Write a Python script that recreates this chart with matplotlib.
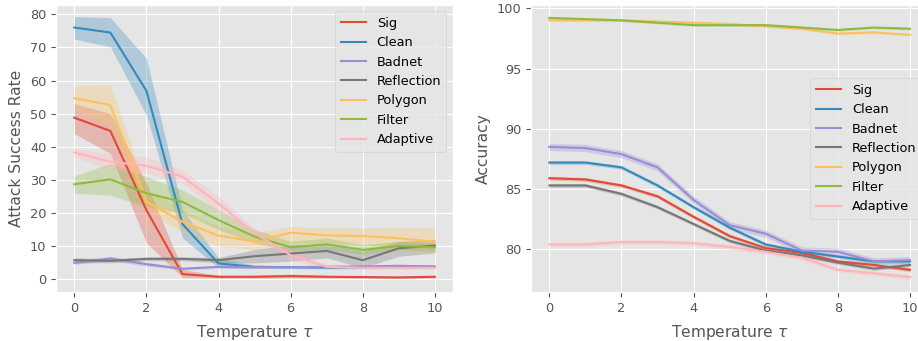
import matplotlib
matplotlib.use("Agg")
import matplotlib.pyplot as plt
import numpy as np

# Attack success rate and clean accuracy vs. softmax temperature, mean with
# shaded spread for each backdoor attack.

temps = list(range(11))
attacks = ["Sig", "Clean", "Badnet", "Reflection", "Polygon", "Filter", "Adaptive"]
colors = ["#E24A33", "#348ABD", "#988ED5", "#777777", "#FBC15E", "#8EBA42", "#FFB5B8"]

# attack success rate (mean, low, high)
asr_sig = [48.8, 44.8, 20.9, 1.6, 0.8, 0.8, 1.0, 0.8, 0.7, 0.6, 0.8]
asr_sig_lo = [44.0, 38.0, 11.0, 0.6, 0.4, 0.4, 0.5, 0.4, 0.4, 0.3, 0.4]
asr_sig_hi = [53.1, 50.0, 29.0, 3.0, 1.2, 1.2, 1.6, 1.2, 1.0, 0.9, 1.2]

asr_clean = [76.0, 74.5, 56.9, 16.7, 4.8, 3.8, 3.7, 3.6, 3.7, 3.8, 3.8]
asr_clean_lo = [72.5, 70.2, 49.6, 12.5, 3.5, 3.3, 3.3, 3.2, 3.3, 3.4, 3.4]
asr_clean_hi = [79.3, 79.0, 66.7, 21.0, 6.5, 4.3, 4.1, 4.0, 4.1, 4.2, 4.2]

asr_badnet = [5.0, 6.3, 4.6, 3.2, 3.8, 3.7, 3.7, 3.8, 3.9, 4.1, 3.9]
asr_badnet_lo = [4.5, 5.6, 4.0, 2.8, 3.4, 3.3, 3.3, 3.4, 3.5, 3.6, 3.5]
asr_badnet_hi = [5.5, 7.0, 5.2, 3.6, 4.2, 4.1, 4.1, 4.2, 4.3, 4.6, 4.3]

asr_reflection = [5.8, 5.6, 6.2, 6.2, 5.8, 7.0, 7.8, 8.6, 5.8, 9.4, 10.2]
asr_reflection_lo = [5.0, 5.0, 5.6, 5.6, 5.0, 5.0, 5.5, 6.5, 3.5, 7.0, 8.0]
asr_reflection_hi = [6.6, 6.2, 6.8, 6.8, 6.6, 9.0, 10.5, 10.5, 8.5, 11.5, 12.0]

asr_polygon = [54.7, 52.6, 23.4, 17.4, 13.2, 11.4, 14.1, 13.3, 13.1, 12.4, 11.4]
asr_polygon_lo = [51.0, 46.0, 21.0, 14.0, 10.0, 9.0, 11.0, 11.0, 10.5, 9.0, 8.0]
asr_polygon_hi = [58.4, 58.9, 27.0, 21.0, 16.0, 14.0, 16.0, 15.5, 15.5, 15.5, 15.5]

asr_filter = [28.7, 30.2, 26.0, 23.4, 17.9, 12.9, 9.7, 10.6, 8.9, 10.1, 9.7]
asr_filter_lo = [26.0, 25.4, 22.0, 20.0, 15.0, 11.0, 8.5, 9.0, 7.5, 9.0, 8.5]
asr_filter_hi = [31.2, 35.0, 31.0, 27.0, 21.0, 15.0, 11.5, 12.5, 10.5, 11.5, 11.0]

asr_adaptive = [38.3, 35.5, 34.3, 31.0, 22.9, 13.9, 7.3, 3.8, 3.5, 3.5, 3.5]
asr_adaptive_lo = [37.0, 33.0, 32.0, 29.0, 20.5, 12.0, 6.0, 3.0, 3.0, 3.0, 3.0]
asr_adaptive_hi = [39.5, 38.0, 37.0, 33.0, 25.0, 15.5, 9.0, 4.5, 4.0, 4.0, 4.0]

# clean accuracy (mean, spread)
acc_sig = [85.9, 85.8, 85.3, 84.4, 82.7, 81.1, 80.1, 79.7, 79.0, 78.7, 78.3]
acc_clean = [87.2, 87.2, 86.8, 85.3, 83.5, 81.8, 80.4, 79.8, 79.4, 79.0, 79.0]
acc_badnet = [88.5, 88.4, 87.9, 86.8, 84.1, 82.0, 81.3, 79.9, 79.8, 79.0, 79.1]
acc_reflection = [85.3, 85.3, 84.6, 83.5, 82.1, 80.7, 79.9, 79.5, 78.9, 78.4, 78.7]
acc_polygon = [99.0, 99.0, 99.0, 98.9, 98.8, 98.7, 98.5, 98.3, 97.9, 98.0, 97.8]
acc_filter = [99.2, 99.1, 99.0, 98.8, 98.6, 98.6, 98.6, 98.4, 98.2, 98.4, 98.3]
acc_adaptive = [80.4, 80.4, 80.6, 80.6, 80.5, 80.2, 79.8, 79.3, 78.3, 78.0, 77.7]
acc_spread = [0.15, 0.15, 0.3, 0.15, 0.1, 0.1, 0.2]

asr_mean = [asr_sig, asr_clean, asr_badnet, asr_reflection, asr_polygon, asr_filter, asr_adaptive]
asr_lo = [asr_sig_lo, asr_clean_lo, asr_badnet_lo, asr_reflection_lo, asr_polygon_lo,
          asr_filter_lo, asr_adaptive_lo]
asr_hi = [asr_sig_hi, asr_clean_hi, asr_badnet_hi, asr_reflection_hi, asr_polygon_hi,
          asr_filter_hi, asr_adaptive_hi]
acc_mean = [acc_sig, acc_clean, acc_badnet, acc_reflection, acc_polygon, acc_filter, acc_adaptive]


def main():
    plt.style.use("ggplot")
    plt.rcParams.update({
        "font.size": 9.3,
        "axes.labelsize": 11.2,
        "xtick.labelsize": 9.3,
        "ytick.labelsize": 9.3,
        "legend.fontsize": 9.3,
    })
    fig = plt.figure(figsize=(9.18, 3.41), dpi=100)
    ax1 = fig.add_axes([0.0613, 0.1437, 0.4321, 0.8416])
    ax2 = fig.add_axes([0.5788, 0.1437, 0.4321, 0.8416])

    x = np.array(temps)
    for name, c, m, lo, hi in zip(attacks, colors, asr_mean, asr_lo, asr_hi):
        ax1.fill_between(x, lo, hi, color=c, alpha=0.3, linewidth=0)
        ax1.plot(x, m, color=c, linewidth=1.5, label=name)

    for name, c, m, s in zip(attacks, colors, acc_mean, acc_spread):
        m = np.array(m)
        ax2.fill_between(x, m - s, m + s, color=c, alpha=0.3, linewidth=0)
        ax2.plot(x, m, color=c, linewidth=1.5, label=name)

    ax1.set_xlim(-0.5, 10.5)
    ax1.set_ylim(-3.8, 82.8)
    ax1.set_xticks(range(0, 11, 2))
    ax1.set_yticks(range(0, 81, 10))
    ax1.set_xlabel(r"Temperature $\tau$", labelpad=6)
    ax1.set_ylabel("Attack Success Rate")
    ax1.legend(loc="upper right")

    ax2.set_xlim(-0.5, 10.5)
    ax2.set_ylim(76.46, 100.27)
    ax2.set_xticks(range(0, 11, 2))
    ax2.set_yticks(range(80, 101, 5))
    ax2.set_xlabel(r"Temperature $\tau$", labelpad=6)
    ax2.set_ylabel("Accuracy")
    ax2.legend(loc="center right")

    fig.savefig("out.png", dpi=100)
    plt.close(fig)


if __name__ == "__main__":
    main()
